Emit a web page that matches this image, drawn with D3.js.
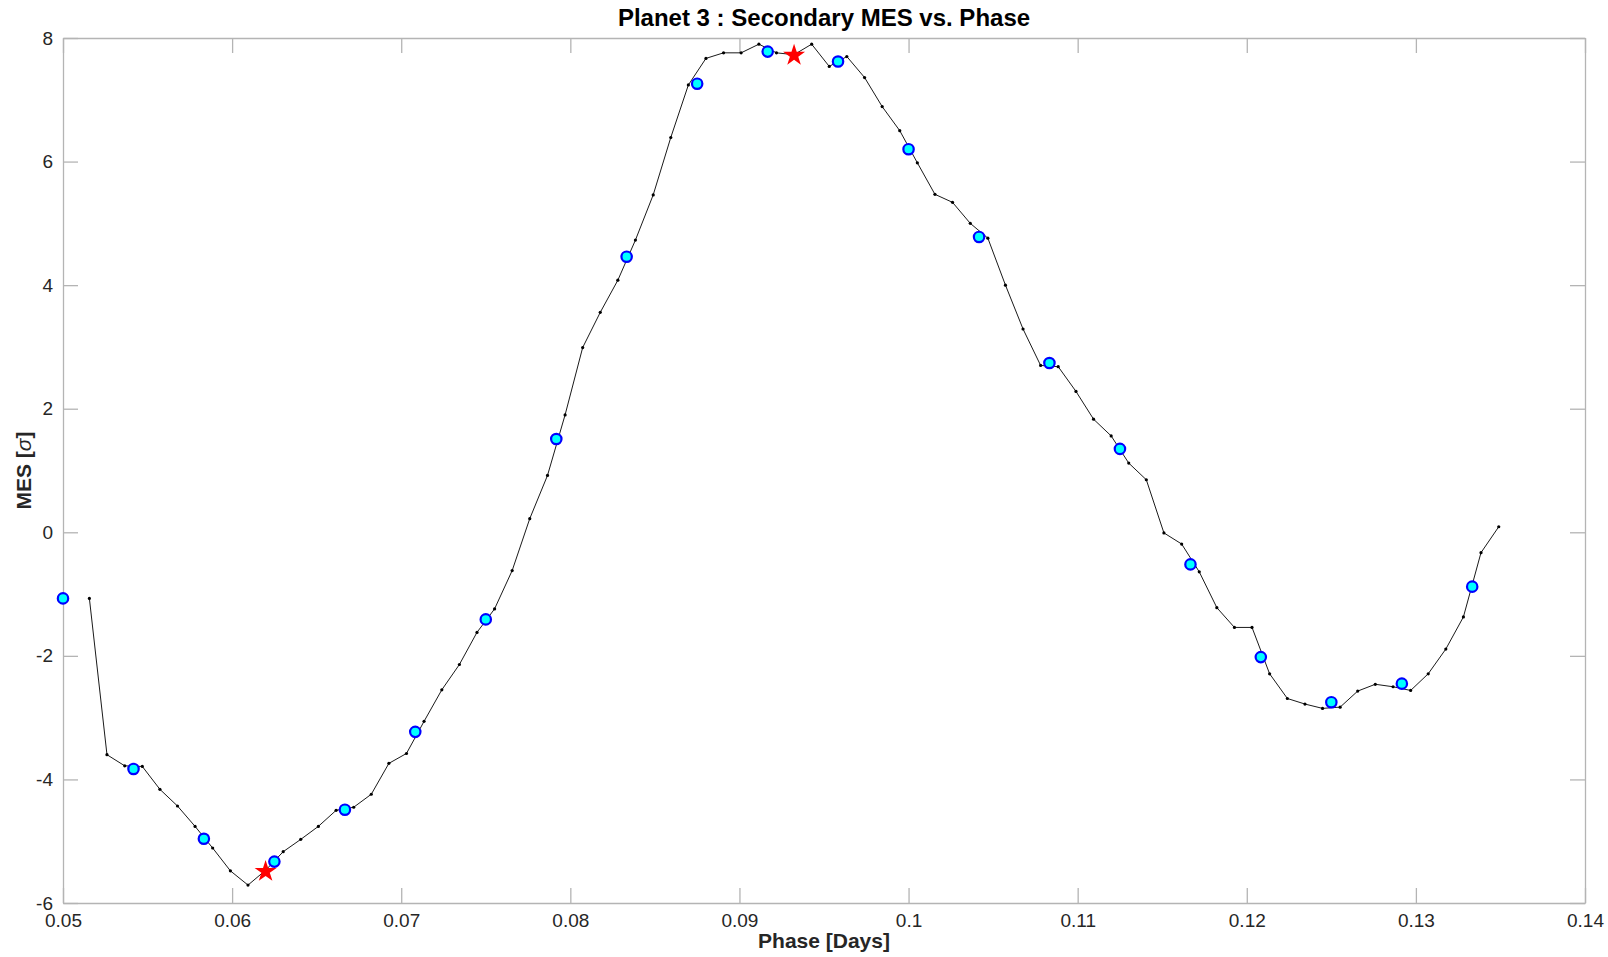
<!DOCTYPE html>
<html>
<head>
<meta charset="utf-8">
<script src="https://cdn.jsdelivr.net/npm/d3@7"></script>
<style>
  body { margin: 0; background: #fff; }
</style>
</head>
<body>
<div id="chart"></div>
<script>
// === data
const phase = [
  0.05156, 0.05260, 0.05365, 0.05469, 0.05573, 0.05677, 0.05781, 0.05885, 0.05990, 0.06094,
  0.06198, 0.06302, 0.06406, 0.06510, 0.06615, 0.06719, 0.06823, 0.06927, 0.07031, 0.07135,
  0.07240, 0.07344, 0.07448, 0.07552, 0.07656, 0.07760, 0.07865, 0.07969, 0.08073, 0.08177,
  0.08281, 0.08385, 0.08490, 0.08594, 0.08698, 0.08802, 0.08906, 0.09010, 0.09115, 0.09219,
  0.09323, 0.09427, 0.09531, 0.09635, 0.09740, 0.09844, 0.09948, 0.10052, 0.10156, 0.10260,
  0.10365, 0.10469, 0.10573, 0.10677, 0.10781, 0.10885, 0.10990, 0.11094, 0.11198, 0.11302,
  0.11406, 0.11510, 0.11615, 0.11719, 0.11823, 0.11927, 0.12031, 0.12135, 0.12240, 0.12344,
  0.12448, 0.12552, 0.12656, 0.12760, 0.12865, 0.12969, 0.13073, 0.13177, 0.13281, 0.13385,
  0.13490
];
const mes = [
  -1.07, -3.60, -3.78, -3.79, -4.16, -4.43, -4.76, -5.11, -5.48, -5.71,
  -5.47, -5.17, -4.97, -4.76, -4.50, -4.45, -4.24, -3.74, -3.58, -3.06,
  -2.55, -2.14, -1.62, -1.24, -0.62,  0.22,  0.92,  1.90,  2.99,  3.56,
   4.08,  4.73,  5.46,  6.39,  7.24,  7.67,  7.76,  7.76,  7.90,  7.76,
   7.73,  7.90,  7.54,  7.70,  7.36,  6.89,  6.50,  5.98,  5.47,  5.34,
   5.00,  4.76,  4.00,  3.29,  2.70,  2.68,  2.28,  1.83,  1.56,  1.12,
   0.85, -0.01, -0.19, -0.64, -1.22, -1.54, -1.54, -2.29, -2.69, -2.78,
  -2.85, -2.83, -2.57, -2.46, -2.50, -2.56, -2.29, -1.89, -1.37, -0.33,
   0.09
];

// cyan markers
const markPhase = [
  0.05, 0.05417, 0.05833, 0.0625, 0.06667, 0.07083, 0.075, 0.07917, 0.08333, 0.0875,
  0.09167, 0.09583, 0.1, 0.10417, 0.10833, 0.1125, 0.11667, 0.12083, 0.125, 0.12917,
  0.13333
];
const markMes = [
  -1.07, -3.83, -4.96, -5.33, -4.49, -3.23, -1.41, 1.51, 4.46, 7.26,
   7.78, 7.62, 6.20, 4.78, 2.74, 1.35, -0.52, -2.02, -2.75, -2.45,
  -0.88
];

// red stars
const starPhase = [0.06198, 0.09323];
const starMes = [-5.49, 7.72];

const xTicks = [0.05, 0.06, 0.07, 0.08, 0.09, 0.1, 0.11, 0.12, 0.13, 0.14];
const yTicks = [-6, -4, -2, 0, 2, 4, 6, 8];

const titleText = "Planet 3 : Secondary MES vs. Phase";
const xLabelText = "Phase [Days]";

// === layout
const boxSize = {width: 1608, height: 957};
const plot = {x1: 63, y1: 38, x2: 1585, y2: 903};
const tickLen = 15;
const boxColor = "#b4b4b4";
const tickFont = "'Liberation Sans Narrow', 'Liberation Sans', Arial, sans-serif";
const labelFont = "'Liberation Sans', Arial, Helvetica, sans-serif";

const svg = d3.select("#chart").append("svg")
  .attr("width", boxSize.width)
  .attr("height", boxSize.height)
  .attr("viewBox", "0 0 " + boxSize.width + " " + boxSize.height)
  .style("background", "#fff");

const x = d3.scaleLinear().domain([0.05, 0.14]).range([plot.x1, plot.x2]);
const y = d3.scaleLinear().domain([-6, 8]).range([plot.y2, plot.y1]);
// plain hyphen for negatives, like the original
const fmt = v => d3.format("~g")(v).replace("\u2212", "-");

// axes: ticks point inward, mirrored on top / right like a boxed matlab axes
const xAxisBottom = d3.axisBottom(x).tickValues(xTicks).tickFormat(fmt)
  .tickSizeInner(-tickLen).tickSizeOuter(0).tickPadding(11);
const xAxisTop = d3.axisTop(x).tickValues(xTicks).tickFormat("")
  .tickSizeInner(-tickLen).tickSizeOuter(0);
const yAxisLeft = d3.axisLeft(y).tickValues(yTicks).tickFormat(fmt)
  .tickSizeInner(-tickLen).tickSizeOuter(0).tickPadding(10);
const yAxisRight = d3.axisRight(y).tickValues(yTicks).tickFormat("")
  .tickSizeInner(-tickLen).tickSizeOuter(0);

function styleAxis(g){
  g.select(".domain").attr("stroke", boxColor).attr("stroke-width", 1.3);
  g.selectAll(".tick line").attr("stroke", boxColor).attr("stroke-width", 1.3);
  g.selectAll(".tick text")
    .attr("fill", "#262626")
    .style("font-family", tickFont)
    .style("font-size", "19px");
}

svg.append("g").attr("transform", "translate(0," + plot.y2 + ")").call(xAxisBottom).call(styleAxis);
svg.append("g").attr("transform", "translate(0," + plot.y1 + ")").call(xAxisTop).call(styleAxis);
svg.append("g").attr("transform", "translate(" + plot.x1 + ",0)").call(yAxisLeft).call(styleAxis);
svg.append("g").attr("transform", "translate(" + plot.x2 + ",0)").call(yAxisRight).call(styleAxis);

// === series
const line = d3.line().x(d => x(d[0])).y(d => y(d[1]));
const pts = phase.map((p, i) => [p, mes[i]]);

svg.append("path")
  .datum(pts)
  .attr("fill", "none")
  .attr("stroke", "#1a1a1a")
  .attr("stroke-width", 1)
  .attr("d", line);

svg.append("g").selectAll("circle")
  .data(pts)
  .join("circle")
  .attr("cx", d => x(d[0]))
  .attr("cy", d => y(d[1]))
  .attr("r", 1.6)
  .attr("fill", "#000");

const marks = markPhase.map((p, i) => [p, markMes[i]]);
svg.append("g").selectAll("circle")
  .data(marks)
  .join("circle")
  .attr("cx", d => x(d[0]))
  .attr("cy", d => y(d[1]))
  .attr("r", 5.2)
  .attr("fill", "#00ffff")
  .attr("stroke", "#0000ff")
  .attr("stroke-width", 2.2);

const stars = starPhase.map((p, i) => [p, starMes[i]]);
const starPath = d3.symbol().type(d3.symbolStar).size(150);
svg.append("g").selectAll("path")
  .data(stars)
  .join("path")
  .attr("transform", d => "translate(" + x(d[0]) + "," + y(d[1]) + ")")
  .attr("d", starPath)
  .attr("fill", "#ff0000");

// === text
const cx = (plot.x1 + plot.x2) / 2;
svg.append("text")
  .attr("x", cx)
  .attr("y", 26)
  .attr("text-anchor", "middle")
  .style("font-family", labelFont)
  .style("font-weight", "bold")
  .style("font-size", "24px")
  .attr("fill", "#000")
  .text(titleText);

svg.append("text")
  .attr("x", cx)
  .attr("y", 948)
  .attr("text-anchor", "middle")
  .style("font-family", labelFont)
  .style("font-weight", "bold")
  .style("font-size", "21px")
  .attr("fill", "#262626")
  .text(xLabelText);

const yLab = svg.append("text")
  .attr("transform", "translate(31," + ((plot.y1 + plot.y2) / 2) + ") rotate(-90)")
  .attr("text-anchor", "middle")
  .style("font-family", labelFont)
  .style("font-weight", "bold")
  .style("font-size", "21px")
  .attr("fill", "#262626");
yLab.append("tspan").text("MES [");
yLab.append("tspan").style("font-style", "italic").style("font-weight", "normal").text("\u03C3");
yLab.append("tspan").text("]");
</script>
</body>
</html>
